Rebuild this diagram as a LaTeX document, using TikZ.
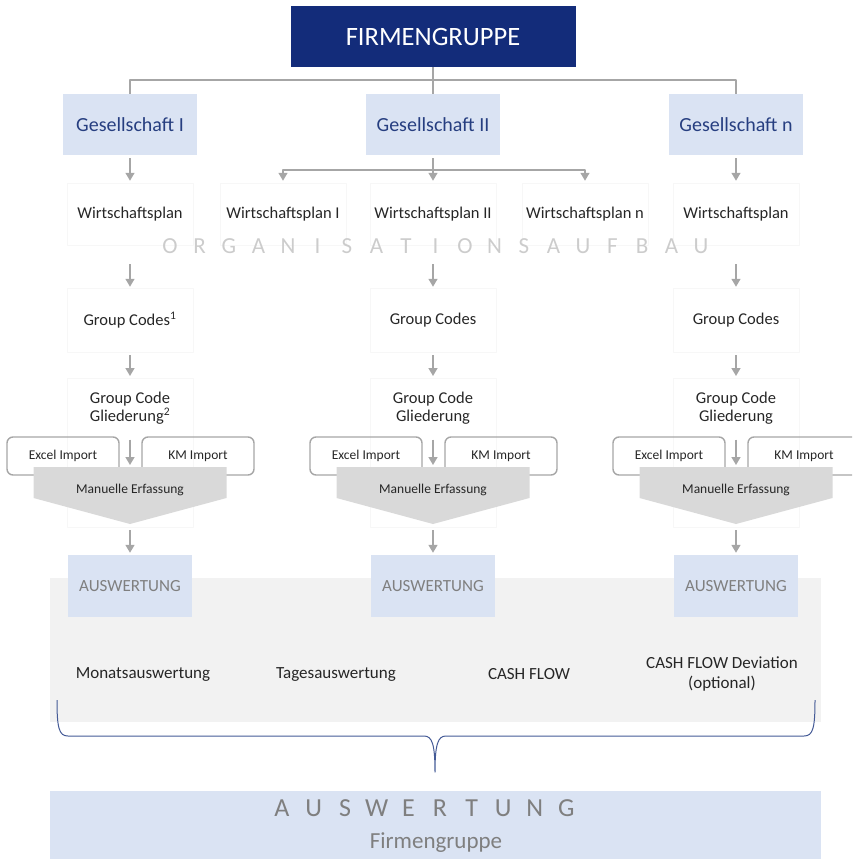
\documentclass[tikz,border=0pt]{standalone}
\usepackage{fontspec}
\setmainfont{Carlito}
\usetikzlibrary{arrows.meta,calc,positioning}
\definecolor{navy}{RGB}{19,44,122}
\definecolor{gesblue}{RGB}{38,62,128}
\definecolor{paleblue}{RGB}{218,227,243}
\definecolor{linegray}{RGB}{166,166,166}
\definecolor{panelgray}{RGB}{242,242,242}
\definecolor{wedgegray}{RGB}{217,217,217}
\definecolor{bracecol}{RGB}{68,90,150}
\definecolor{txtgray}{RGB}{127,127,127}
\tikzset{
  conn/.style={draw=linegray,line width=1.5pt},
  arr/.style={conn,-{Triangle[width=9pt,length=8pt]}},
  faint/.style={draw=black!3,line width=0.5pt,minimum width=126pt,inner sep=0pt},
  plain/.style={text=black!85,font=\fontsize{16.5}{18}\selectfont,align=center},
  gesbox/.style={fill=paleblue,text=gesblue,minimum width=134pt,minimum height=61pt,font=\fontsize{20}{24}\selectfont},
  impbox/.style={draw=linegray,line width=1.4pt,rounded corners=6pt,minimum width=112pt,minimum height=38pt,text=black!85,font=\fontsize{13.5}{16}\selectfont},
  ausbox/.style={fill=paleblue,text=txtgray,minimum width=124pt,minimum height=62pt,font=\fontsize{17}{20}\selectfont},
  wedgetxt/.style={text=black!85,font=\fontsize{13.5}{16}\selectfont}
}

\begin{document}
\begin{tikzpicture}[x=1pt,y=-1pt,line join=round]
\useasboundingbox (0,0) rectangle (852,859);
\clip (0,0) rectangle (852,859);
% grey panel behind the evaluations
\fill[panelgray] (50,578) rectangle (821,722);
% group and companies
\node[fill=navy,text=white,minimum width=285pt,minimum height=61pt,font=\fontsize{26.5}{30}\selectfont] (firm) at (433,36.5) {FIRMENGRUPPE};
\node[gesbox] (ges1) at (130,124.5) {Gesellschaft I};
\node[gesbox] (ges2) at (433,124.5) {Gesellschaft II};
\node[gesbox] (gesn) at (736,124.5) {Gesellschaft n};
\coordinate (hub) at (433,80);
\draw[conn] (firm) -- (ges2);
\draw[conn] (ges1.north) |- (hub) -| (gesn.north);
% business plans
\node[faint,minimum height=62pt,plain] (wp1) at (130,214) {Wirtschaftsplan};
\node[faint,minimum height=62pt,plain] (wp2a) at (283,214) {Wirtschaftsplan I};
\node[faint,minimum height=62pt,plain] (wp2b) at (433,214) {Wirtschaftsplan II};
\node[faint,minimum height=62pt,plain] (wp2c) at (585,214) {Wirtschaftsplan n};
\node[faint,minimum height=62pt,plain] (wpn) at (736,214) {Wirtschaftsplan};
\draw[arr,shorten <=3pt,shorten >=2pt] (ges1) -- (wp1);
\draw[arr,shorten <=3pt,shorten >=2pt] (gesn) -- (wpn);
\draw[conn,shorten <=3pt] (ges2.south) -- ++(0,15) coordinate (split);
\draw[arr,shorten >=2pt] (split) -| (wp2a.north);
\draw[arr,shorten >=2pt] (split) -- (wp2b.north);
\draw[arr,shorten >=2pt] (split) -| (wp2c.north);
% watermark
\foreach \l [count=\i from 0] in {O,R,G,A,N,I,S,A,T,I,O,N,S,A,U,F,B,A,U}
  \node[text=black!20,font=\fontsize{23}{26}\selectfont] (org\i) at ({170+29.5*\i},246) {\l};
% column I
\begin{scope}
\node[faint,minimum height=64pt,plain] (gc1) at (130,320) {Group Codes\textsuperscript{1}};
\node[faint,minimum height=149pt,anchor=north] (gl1) at (130,378) {};
\node[plain] (glt1) at (130,408) {Group Code\\Gliederung\textsuperscript{2}};
\node[impbox] (xl1) at (63,456) {Excel Import};
\node[impbox] (km1) at (198,456) {KM Import};
\fill[wedgegray] (33.5,467) -- (226.5,467) -- (226.5,498) -- (130,524) -- (33.5,498) -- cycle;
\coordinate (wtop1) at (130,467);
\coordinate (wtip1) at (130,524);
\node[wedgetxt] (me1) at (130,490) {Manuelle Erfassung};
\node[ausbox] (aus1) at (130,586) {AUSWERTUNG};
\draw[arr,shorten <=19pt,shorten >=1pt] (wp1) -- (gc1);
\draw[arr,shorten <=3pt,shorten >=2pt] (gc1) -- (gl1);
\draw[arr,shorten <=12pt,shorten >=2pt] (glt1.south) -- (wtop1);
\draw[arr,shorten <=6pt,shorten >=2pt] (wtip1) -- (aus1.north);
\end{scope}
% column II
\begin{scope}[xshift=303pt]
\node[faint,minimum height=64pt,plain] (gc2) at (130,320) {Group Codes};
\node[faint,minimum height=149pt,anchor=north] (gl2) at (130,378) {};
\node[plain] (glt2) at (130,408) {Group Code\\Gliederung};
\node[impbox] (xl2) at (63,456) {Excel Import};
\node[impbox] (km2) at (198,456) {KM Import};
\fill[wedgegray] (33.5,467) -- (226.5,467) -- (226.5,498) -- (130,524) -- (33.5,498) -- cycle;
\coordinate (wtop2) at (130,467);
\coordinate (wtip2) at (130,524);
\node[wedgetxt] (me2) at (130,490) {Manuelle Erfassung};
\node[ausbox] (aus2) at (130,586) {AUSWERTUNG};
\draw[arr,shorten <=19pt,shorten >=1pt] (wp2b) -- (gc2);
\draw[arr,shorten <=3pt,shorten >=2pt] (gc2) -- (gl2);
\draw[arr,shorten <=12pt,shorten >=2pt] (glt2.south) -- (wtop2);
\draw[arr,shorten <=6pt,shorten >=2pt] (wtip2) -- (aus2.north);
\end{scope}
% column n
\begin{scope}[xshift=606pt]
\node[faint,minimum height=64pt,plain] (gcn) at (130,320) {Group Codes};
\node[faint,minimum height=149pt,anchor=north] (gln) at (130,378) {};
\node[plain] (gltn) at (130,408) {Group Code\\Gliederung};
\node[impbox] (xln) at (63,456) {Excel Import};
\node[impbox] (kmn) at (198,456) {KM Import};
\fill[wedgegray] (33.5,467) -- (226.5,467) -- (226.5,498) -- (130,524) -- (33.5,498) -- cycle;
\coordinate (wtopn) at (130,467);
\coordinate (wtipn) at (130,524);
\node[wedgetxt] (men) at (130,490) {Manuelle Erfassung};
\node[ausbox] (ausn) at (130,586) {AUSWERTUNG};
\draw[arr,shorten <=19pt,shorten >=1pt] (wpn) -- (gcn);
\draw[arr,shorten <=3pt,shorten >=2pt] (gcn) -- (gln);
\draw[arr,shorten <=12pt,shorten >=2pt] (gltn.south) -- (wtopn);
\draw[arr,shorten <=6pt,shorten >=2pt] (wtipn) -- (ausn.north);
\end{scope}
% evaluations
\node[plain,font=\fontsize{17}{20}\selectfont] (mon) at (143,674) {Monatsauswertung};
\node[plain,font=\fontsize{17}{20}\selectfont] (tag) at (336,674) {Tagesauswertung};
\node[plain,font=\fontsize{17}{20}\selectfont] (cf) at (529,674) {CASH FLOW};
\node[plain,font=\fontsize{17}{20}\selectfont] (cfd) at (722,674) {CASH FLOW Deviation\\(optional)};
% brace
\coordinate (brL) at (57,700);
\coordinate (brTip) at (435,772);
\coordinate (brR) at (815,700);
\draw[bracecol,line width=1pt] (brL) .. controls (57,728) and (59,736) .. (68,736) -- (424,736)
  .. controls (432,736) and (435,744) .. (brTip) .. controls (435,744) and (438,736) .. (446,736)
  -- (804,736) .. controls (813,736) and (815,728) .. (brR);
% group evaluation
\fill[paleblue] (50,791) rectangle (821,859);
\foreach \l [count=\i from 0] in {A,U,S,W,E,R,T,U,N,G}
  \node[text=txtgray,font=\fontsize{26}{30}\selectfont] (aw\i) at ({282+31.6*\i},808) {\l};
\node[text=txtgray,font=\fontsize{23}{26}\selectfont] (fgr) at (436,843) {Firmengruppe};
\end{tikzpicture}
\end{document}
